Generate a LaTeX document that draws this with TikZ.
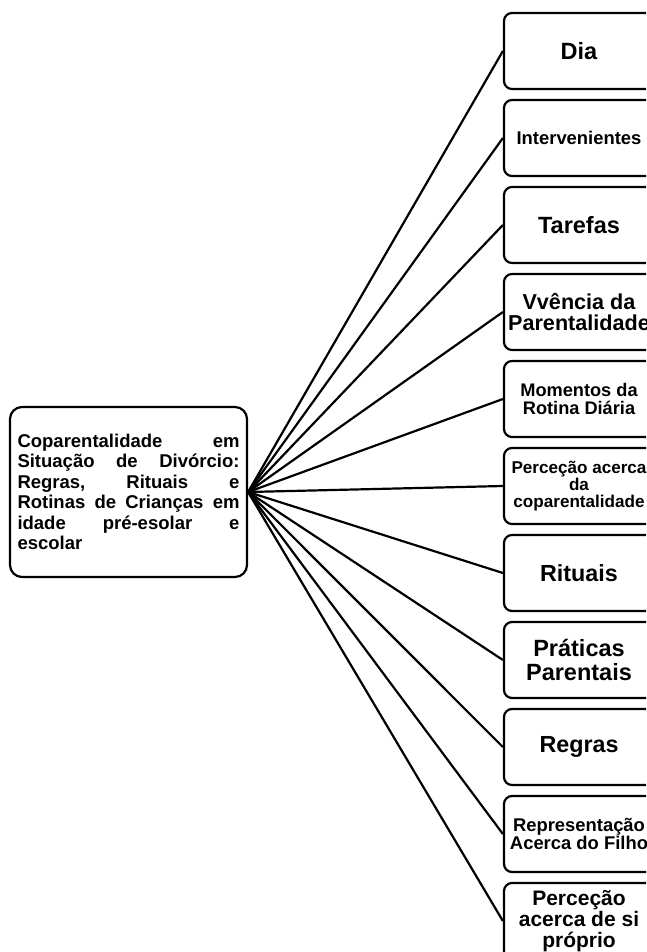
\documentclass[tikz,border=0pt]{standalone}
\usepackage{fontspec}
\setmainfont{Liberation Sans}
\begin{document}
\begin{tikzpicture}[x=1pt,y=-1pt,
  fs/.style={font=\bfseries\fontsize{#1}{#1}\selectfont},
  rbox/.style={draw, line width=2.2pt, rounded corners=8pt, minimum width=150pt,
    minimum height=76pt, align=center, inner sep=0pt},
  lbox/.style={draw, line width=2.2pt, rounded corners=12pt, minimum width=237pt,
    minimum height=170pt, text width=222pt, align=left, inner sep=0pt,
    font=\bfseries\fontsize{18.5}{20.5}\selectfont},
  link/.style={line width=2.2pt}]
\useasboundingbox (0,0) rectangle (646,952);
\clip (0,0) rectangle (646,952);
\node[lbox] (L) at (128.5,492) {Coparentalidade\hfill em\\
Situação\hfill de\hfill Divórcio:\\
Regras,\hfill Rituais\hfill e\\
Rotinas\hfill de\hfill Crianças\hfill em\\
idade\hfill pré-esolar\hfill e\\
escolar};
\node[rbox, fs=23.5] (R0) at (579,51) {Dia};
\node[rbox, fs=18.4] (R1) at (579,138) {Intervenientes};
\node[rbox, fs=23.5] (R2) at (579,225) {Tarefas};
\node[rbox, fs=21.6] (R3) at (579,312) {Vvência da\\Parentalidade};
\node[rbox, fs=18.2] (R4) at (579,399) {Momentos da\\Rotina Diária};
\node[rbox, fs=17.1] (R5) at (579,486) {Perceção acerca\\da\\coparentalidade};
\node[rbox, fs=23.3] (R6) at (579,573) {Rituais};
\node[rbox, fs=23.5] (R7) at (579,660) {Práticas\\Parentais};
\node[rbox, fs=23.3] (R8) at (579,747) {Regras};
\node[rbox, fs=18.4] (R9) at (579,834) {Representação\\Acerca do Filho};
\node[rbox, fs=21] (R10) at (579,921) {Perceção\\acerca de si\\próprio};
\foreach \i in {0,...,10}{\draw[link] (L.east) -- (R\i.west);}
\end{tikzpicture}
\end{document}
